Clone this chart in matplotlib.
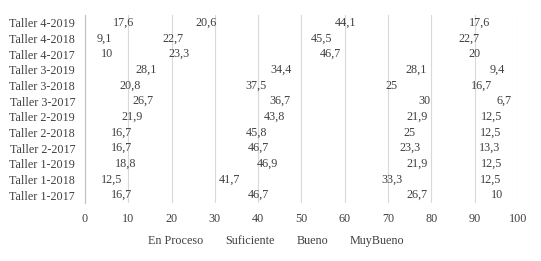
import numpy as np
import matplotlib.pyplot as plt

talleres = ['Taller 4-2019', 'Taller 4-2018', 'Taller 4-2017',
            'Taller 3-2019', 'Taller 3-2018', 'Taller 3-2017',
            'Taller 2-2019', 'Taller 2-2018', 'Taller 2-2017',
            'Taller 1-2019', 'Taller 1-2018', 'Taller 1-2017']
series = ['En Proceso', 'Suficiente', 'Bueno', 'MuyBueno']
en_proceso = [17.6, 9.1, 10, 28.1, 20.8, 26.7, 21.9, 16.7, 16.7, 18.8, 12.5, 16.7]
suficiente = [20.6, 22.7, 23.3, 34.4, 37.5, 36.7, 43.8, 45.8, 46.7, 46.9, 41.7, 46.7]
bueno = [44.1, 45.5, 46.7, 28.1, 25, 30, 21.9, 25, 23.3, 21.9, 33.3, 26.7]
muy_bueno = [17.6, 22.7, 20, 9.4, 16.7, 6.7, 12.5, 12.5, 13.3, 12.5, 12.5, 10]

plt.rcParams['font.family'] = 'Liberation Serif'
txt = '#404040'
fs = 8.7

fig = plt.figure(figsize=(5.41, 2.61), dpi=100)
ax = fig.add_axes([0.157, 0.222, 0.8005, 0.7205])

y = np.arange(len(talleres))
left = np.zeros(len(talleres))
for name, vals in zip(series, [en_proceso, suficiente, bueno, muy_bueno]):
    vals = np.array(vals)
    bars = ax.barh(y, vals, left=left, height=0.6, facecolor='none',
                   edgecolor='none', label=name)
    labels = [f'{v:g}'.replace('.', ',') for v in vals]
    ax.bar_label(bars, labels=labels, label_type='center', fontsize=fs, color=txt)
    left += vals

ax.set_xlim(0, 100)
ax.set_ylim(len(talleres) - 0.5, -0.5)
ax.set_xticks(range(0, 101, 10))
ax.set_yticks(y)
ax.set_yticklabels(talleres)
ax.tick_params(length=0, labelsize=fs, labelcolor=txt)
ax.tick_params(axis='x', pad=7)
ax.tick_params(axis='y', pad=7)
ax.grid(axis='x', color='#d9d9d9', linewidth=0.8)
ax.set_axisbelow(True)
for s in ['top', 'right', 'bottom']:
    ax.spines[s].set_visible(False)
ax.spines['left'].set_color('#bfbfbf')
ax.spines['left'].set_linewidth(0.8)

fig.legend(loc='center', bbox_to_anchor=(0.511, 0.077), ncol=4, frameon=False,
           fontsize=fs, labelcolor=txt, handlelength=0, handletextpad=0,
           columnspacing=1.8)

fig.savefig('out.png', dpi=100)
